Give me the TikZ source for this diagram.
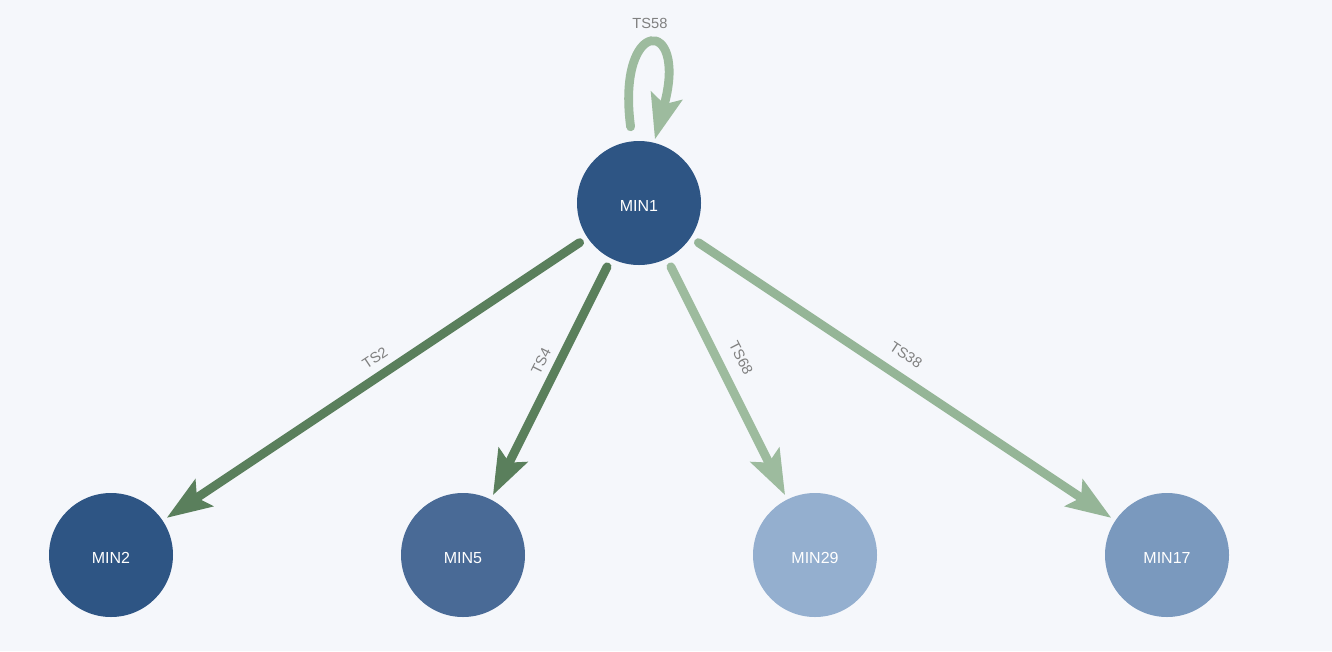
\documentclass[tikz,border=0pt]{standalone}
\usepackage{fontspec}
\setmainfont{Liberation Sans}
\usetikzlibrary{arrows.meta}
\definecolor{bgc}{HTML}{F5F7FB}
\definecolor{nodeA}{HTML}{2E5584}
\definecolor{nodeB}{HTML}{496A96}
\definecolor{nodeC}{HTML}{94AFCF}
\definecolor{nodeD}{HTML}{7A99BE}
\definecolor{edgeDark}{HTML}{5A7F5C}
\definecolor{edgeLight}{HTML}{9DBB9E}
\definecolor{edgeMid}{HTML}{95B597}
\definecolor{lblc}{HTML}{808080}
\begin{document}
\begin{tikzpicture}[x=0.75pt,y=-0.75pt,
  vert/.style={circle,minimum size=93pt,inner sep=0pt,outer sep=0pt,text=white,
    text height=13pt,text depth=0pt,font=\fontsize{12}{14}\selectfont},
  link/.style={line width=6.6pt,line cap=round,
    -{Stealth[length=34pt,width=25pt,inset=7pt,line width=0pt]},
    shorten <=7pt,shorten >=4pt},
  lbl/.style={text=lblc,font=\fontsize{11}{13}\selectfont,inner sep=0pt}]
\fill[bgc] (0,0) rectangle (1332,651);
\useasboundingbox (0,0) rectangle (1332,651);
\node[vert,fill=nodeA] (m1) at (639,203) {MIN1};
\node[vert,fill=nodeA] (m2) at (111,555) {MIN2};
\node[vert,fill=nodeB] (m5) at (463,555) {MIN5};
\node[vert,fill=nodeC] (m29) at (815,555) {MIN29};
\node[vert,fill=nodeD] (m17) at (1167,555) {MIN17};
\draw[link,edgeDark] (m1) -- (m2);
\draw[link,edgeDark] (m1) -- (m5);
\draw[link,edgeLight] (m1) -- (m29);
\draw[link,edgeMid] (m1) -- (m17);
\draw[link,edgeLight,shorten <=11pt,shorten >=3pt] (m1.96) .. controls (616,16) and (688,16) .. (m1.76);
\node[lbl,rotate=33.7] (l2) at (375,358) {TS2};
\node[lbl,rotate=63.5] (l4) at (541,361) {TS4};
\node[lbl,rotate=-63] (l68) at (741,358) {TS68};
\node[lbl,rotate=-33.7] (l38) at (906,355) {TS38};
\node[lbl] (l58) at (650,23) {TS58};
\end{tikzpicture}
\end{document}
